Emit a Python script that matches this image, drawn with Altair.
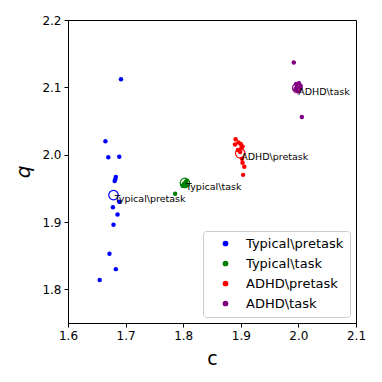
import altair as alt
import pandas as pd

groups = ["Typical\\pretask", "Typical\\task", "ADHD\\pretask", "ADHD\\task"]
colors = ["#0000ff", "#008000", "#ff0000", "#800080"]

# individual points per group (c, q)
typ_pre_c = [1.692, 1.665, 1.670, 1.689, 1.683, 1.682, 1.681, 1.689, 1.678, 1.686, 1.679, 1.672, 1.683, 1.655]
typ_pre_q = [2.112, 2.020, 1.996, 1.997, 1.967, 1.963, 1.961, 1.930, 1.922, 1.911, 1.896, 1.853, 1.830, 1.814]

typ_task_c = [1.786, 1.799, 1.802, 1.804, 1.806, 1.801, 1.805]
typ_task_q = [1.942, 1.954, 1.957, 1.959, 1.961, 1.956, 1.955]

adhd_pre_c = [1.891, 1.896, 1.900, 1.890, 1.903, 1.895, 1.899, 1.902, 1.903, 1.906, 1.904, 1.901]
adhd_pre_q = [2.023, 2.018, 2.016, 2.015, 2.012, 2.007, 2.004, 1.994, 1.988, 1.982, 1.970, 2.010]

adhd_task_c = [1.992, 1.996, 2.001, 2.004, 1.995, 1.999, 2.003, 1.997, 2.006]
adhd_task_q = [2.137, 2.105, 2.106, 2.102, 2.097, 2.094, 2.099, 2.100, 2.056]

# group centres (open circles + labels)
centre_c = [1.679, 1.803, 1.899, 1.998]
centre_q = [1.940, 1.958, 2.002, 2.099]

x_ticks = [1.6, 1.7, 1.8, 1.9, 2.0, 2.1]
y_ticks = [1.8, 1.9, 2.0, 2.1, 2.2]

rows = []
for g, cs, qs in zip(groups, [typ_pre_c, typ_task_c, adhd_pre_c, adhd_task_c],
                     [typ_pre_q, typ_task_q, adhd_pre_q, adhd_task_q]):
    for c, q in zip(cs, qs):
        rows.append({"group": g, "c": c, "q": q})
pts = pd.DataFrame(rows)
cen = pd.DataFrame({"group": groups, "c": centre_c, "q": centre_q})

xs = alt.Scale(domain=[1.6, 2.1], nice=False, zero=False)
ys = alt.Scale(domain=[1.75, 2.2], nice=False, zero=False)
col = alt.Scale(domain=groups, range=colors)

xax = alt.Axis(values=x_ticks, format=".1f", title="c", grid=False, titleFontSize=19,
               titleFontWeight="normal", titlePadding=8, labelFlush=False)
yax = alt.Axis(values=y_ticks, format=".1f", title="q", grid=False, titleFontSize=20,
               titleFontWeight="normal", titlePadding=8, titleFontStyle="italic",
               labelFlush=False)

points = alt.Chart(pts).mark_circle(size=20, opacity=1).encode(
    x=alt.X("c:Q", scale=xs, axis=xax),
    y=alt.Y("q:Q", scale=ys, axis=yax),
    color=alt.Color("group:N", scale=col, sort=groups,
                    legend=alt.Legend(title=None, orient="bottom-right", offset=6,
                                      labelFontSize=13, symbolSize=18, symbolType="circle",
                                      padding=6, symbolOffset=10, labelOffset=14,
                                      rowPadding=6, fillColor="white",
                                      strokeColor="#cccccc", cornerRadius=3)),
)

rings = alt.Chart(cen).mark_point(size=90, filled=False, strokeWidth=1.2, opacity=1).encode(
    x=alt.X("c:Q", scale=xs),
    y=alt.Y("q:Q", scale=ys),
    color=alt.Color("group:N", scale=col, sort=groups, legend=None),
)

labels = alt.Chart(cen).mark_text(align="left", baseline="middle", dx=1, dy=4,
                                  fontSize=9.5, color="black", font="DejaVu Sans").encode(
    x=alt.X("c:Q", scale=xs),
    y=alt.Y("q:Q", scale=ys),
    text="group:N",
)

chart = alt.layer(points, rings, labels).properties(
    width=288, height=303,
    autosize=alt.AutoSizeParams(type="none"),
    padding={"left": 60, "top": 12, "right": 16, "bottom": 46},
).configure(font="DejaVu Sans").configure_view(
    stroke="black", strokeWidth=1
).configure_axis(
    domainColor="black", tickColor="black", labelColor="black", titleColor="black",
    labelFontSize=12, tickSize=4, labelPadding=3, labelFont="DejaVu Sans",
    titleFont="DejaVu Sans"
).configure_legend(labelFont="DejaVu Sans", labelColor="black")

chart.save("out.html", embed_options={"renderer": "svg", "actions": False})
